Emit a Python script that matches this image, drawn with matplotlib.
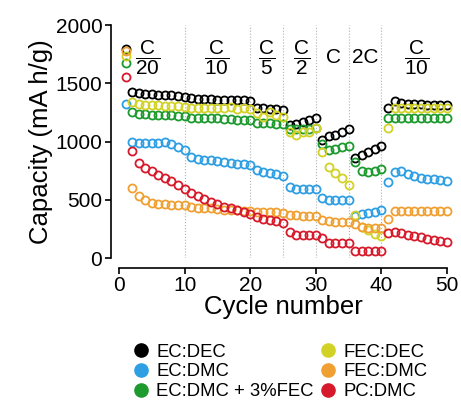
import matplotlib
matplotlib.use('Agg')
import matplotlib.pyplot as plt
from matplotlib.lines import Line2D

plt.rcParams['font.family'] = ['Liberation Sans', 'DejaVu Sans']
plt.rcParams['mathtext.fontset'] = 'custom'
plt.rcParams['mathtext.rm'] = 'Liberation Sans'

cycles = list(range(1, 51))

ec_dec = [1790, 1425, 1415, 1410, 1405, 1400, 1398, 1395, 1390, 1385,
          1372, 1368, 1365, 1362, 1360, 1358, 1356, 1355, 1353, 1350,
          1290, 1285, 1280, 1278, 1270, 1140, 1150, 1170, 1185, 1200,
          1010, 1045, 1060, 1080, 1105, 855, 885, 910, 935, 960,
          1288, 1350, 1330, 1325, 1320, 1318, 1315, 1313, 1312, 1310]
fec_dec = [1730, 1335, 1320, 1315, 1312, 1310, 1308, 1305, 1303, 1300,
           1290, 1288, 1290, 1285, 1290, 1285, 1295, 1282, 1285, 1280,
           1245, 1210, 1253, 1227, 1210, 1084, 1056, 1084, 1084, 1116,
           912, 783, 732, 686, 627, 370, 270, 240, 210, 190,
           1113, 1290, 1290, 1288, 1288, 1287, 1287, 1286, 1286, 1285]
ec_dmc = [1320, 1000, 990, 990, 990, 990, 995, 980, 955, 930,
          870, 850, 845, 840, 835, 825, 815, 810, 805, 798,
          755, 735, 728, 718, 704, 612, 592, 592, 592, 592,
          515, 500, 498, 498, 498, 360, 375, 385, 395, 410,
          655, 741, 745, 725, 705, 690, 680, 675, 670, 662]
ec_dmc_fec = [1670, 1250, 1235, 1232, 1230, 1228, 1226, 1225, 1223, 1220,
              1205, 1203, 1202, 1200, 1200, 1195, 1190, 1188, 1186, 1185,
              1160, 1158, 1155, 1152, 1150, 1110, 1105, 1108, 1110, 1115,
              980, 930, 940, 950, 965, 820, 745, 740, 750, 765,
              1200, 1200, 1200, 1200, 1200, 1200, 1200, 1200, 1200, 1200]
fec_dmc = [1780, 598, 532, 498, 475, 465, 460, 458, 455, 455,
           440, 432, 428, 425, 420, 415, 410, 408, 405, 400,
           398, 396, 394, 392, 390, 368, 365, 364, 362, 360,
           330, 315, 312, 310, 310, 290, 265, 260, 258, 258,
           332, 403, 403, 402, 402, 402, 401, 401, 400, 400]
pc_dmc = [1550, 920, 815, 775, 745, 715, 690, 660, 630, 595,
          560, 530, 505, 480, 460, 440, 425, 410, 395, 380,
          350, 335, 325, 315, 300, 226, 200, 198, 196, 195,
          169, 128, 126, 126, 125, 62, 60, 60, 60, 60,
          212, 226, 215, 200, 190, 180, 165, 155, 145, 135]

series = [
    ('EC:DEC', ec_dec, '#000000'),
    ('EC:DMC', ec_dmc, '#2e9fe3'),
    ('EC:DMC + 3%FEC', ec_dmc_fec, '#1c9a2d'),
    ('FEC:DEC', fec_dec, '#d2d226'),
    ('FEC:DMC', fec_dmc, '#f0a032'),
    ('PC:DMC', pc_dmc, '#d61a2b'),
]

rate_breaks = [10, 20, 25, 30, 35, 40]
rate_labels = [r'$\dfrac{\mathrm{C}}{\mathrm{20}}$', r'$\dfrac{\mathrm{C}}{\mathrm{10}}$',
               r'$\dfrac{\mathrm{C}}{\mathrm{5}}$', r'$\dfrac{\mathrm{C}}{\mathrm{2}}$',
               'C', '2C', r'$\dfrac{\mathrm{C}}{\mathrm{10}}$']
rate_label_x = [4.4, 14.9, 22.5, 27.8, 32.7, 37.6, 45.4]

fig = plt.figure(figsize=(4.61, 4.01), dpi=100)
ax = fig.add_axes([0.2581, 0.3566, 0.7115, 0.5810])

for xb in rate_breaks:
    ax.axvline(xb, ymin=0, ymax=1, color='#b0b0b0', linestyle=':', linewidth=0.8, zorder=0)

for name, values, color in series:
    ax.plot(cycles, values, linestyle='none', marker='o', markersize=5.8,
            markerfacecolor='none', markeredgecolor=color, markeredgewidth=1.3,
            clip_on=False)

for label, xl in zip(rate_labels, rate_label_x):
    ax.text(xl, 1720, label, fontsize=15, ha='center', va='center')

ax.set_xlim(0, 50)
ax.set_ylim(0, 2000)
ax.set_xticks([0, 10, 20, 30, 40, 50])
ax.set_yticks([0, 500, 1000, 1500, 2000])
for side in ['top', 'right']:
    ax.spines[side].set_visible(False)
ax.spines['left'].set_position(('outward', 6))
ax.spines['bottom'].set_position(('outward', 7))
ax.spines['left'].set_linewidth(1.2)
ax.spines['bottom'].set_linewidth(1.2)
ax.tick_params(axis='both', direction='out', length=4, width=1.2, labelsize=15, pad=2)

ax.set_xlabel('Cycle number', fontsize=18.5, labelpad=0)
ax.set_ylabel('Capacity (mA h/g)', fontsize=18.5, labelpad=2)

handles = [Line2D([], [], linestyle='none', marker='o', markersize=9.5,
                  markerfacecolor=color, markeredgecolor=color, label=name)
           for name, values, color in series]
fig.legend(handles=handles, ncol=2, loc='upper left', bbox_to_anchor=(0.287, 0.143),
           frameon=False, fontsize=13.3, handlelength=0.9, handletextpad=0.4,
           labelspacing=0.15, columnspacing=0.3, borderpad=0, borderaxespad=0)

fig.savefig('out.png', dpi=100)
